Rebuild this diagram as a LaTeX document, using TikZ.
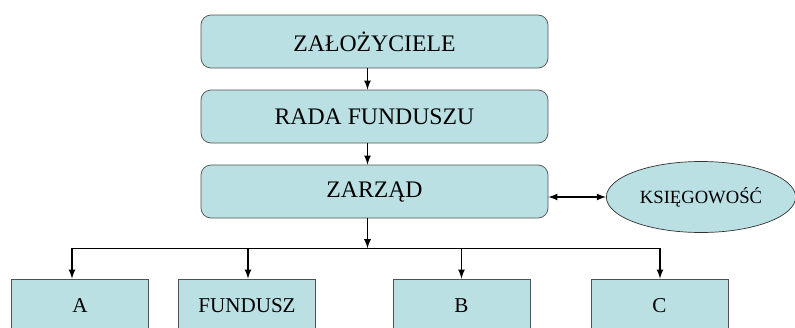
\documentclass[tikz,border=0pt]{standalone}
\usepackage{fontspec}
\setmainfont{Liberation Serif}
\usetikzlibrary{shapes.geometric}
\definecolor{boxfill}{RGB}{186,224,227}
\definecolor{boxline}{RGB}{80,80,80}
\tikzset{
	topbox/.style={draw=boxline, fill=boxfill, rounded corners=0.2cm, minimum width=6.94cm, minimum height=1.06cm, font=\fontsize{13.5}{15}\selectfont},
	unitbox/.style={draw=boxline, fill=boxfill, minimum width=2.74cm, minimum height=1.08cm, font=\fontsize{12}{14}\selectfont},
	arr/.style={-latex, thick}
}
\begin{document}
	\begin{tikzpicture}
		\useasboundingbox (0,0) rectangle (15.9,6.54);
		\clip (0,0) rectangle (15.9,6.54);
		\node[topbox] (zal) at (7.49,5.71) {ZAŁOŻYCIELE};
		\node[topbox] (rada) at (7.49,4.21) {RADA FUNDUSZU};
		\node[topbox] (zarzad) at (7.49,2.71) {ZARZĄD};
		\node[ellipse, draw=black!80, fill=boxfill, minimum width=3.74cm, minimum height=1.42cm, font=\fontsize{10.6}{12}\selectfont] (ksieg) at (14.02,2.6) {KSIĘGOWOŚĆ};
		\node[unitbox] (a) at (1.6,0.42) {A};
		\node[unitbox] (fundusz) at (4.94,0.42) {FUNDUSZ};
		\node[unitbox] (b) at (9.23,0.42) {B};
		\node[unitbox] (c) at (13.19,0.42) {C};
		\draw[arr] ([xshift=-0.14cm]zal.south) -- ([xshift=-0.14cm]rada.north);
		\draw[arr] ([xshift=-0.14cm]rada.south) -- ([xshift=-0.14cm]zarzad.north);
		\draw[latex-latex, thick] (zarzad.east |- ksieg.west) -- (ksieg.west);
		\draw[arr] ([xshift=-0.14cm]zarzad.south) -- ++(0,-0.6) coordinate (split);
		\draw[thick] ([xshift=-0.16cm]a.north |- split) -- ([xshift=0.01cm]c.north |- split);
		\draw[arr] ([xshift=-0.16cm]a.north |- split) -- ([xshift=-0.16cm]a.north);
		\draw[arr] ([xshift=0.02cm]fundusz.north |- split) -- ([xshift=0.02cm]fundusz.north);
		\draw[arr] (b.north |- split) -- (b.north);
		\draw[arr] ([xshift=0.01cm]c.north |- split) -- ([xshift=0.01cm]c.north);
	\end{tikzpicture}
\end{document}
